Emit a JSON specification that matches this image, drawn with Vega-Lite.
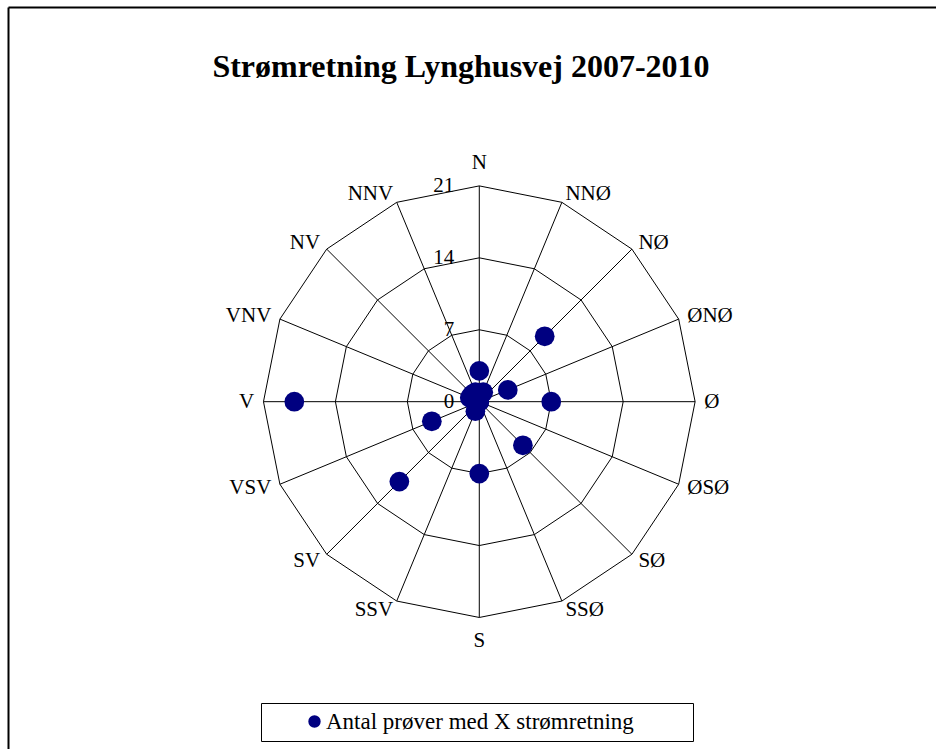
{
  "$schema": "https://vega.github.io/schema/vega-lite/v6.json",
  "width": 928,
  "height": 742,
  "autosize": {"type": "none"},
  "padding": {"left": 8, "top": 7, "right": 0, "bottom": 0},
  "background": "white",
  "title": {"text": "Strømretning Lynghusvej 2007-2010", "font": "Liberation Serif", "fontSize": 32, "fontWeight": "bold", "color": "black", "anchor": "middle", "frame": "group", "offset": 0, "dy": 77, "dx": -11},
  "datasets": {
    "dirs": [
      {"dir": "N", "i": 0, "n": 3},
      {"dir": "NNØ", "i": 1, "n": 1},
      {"dir": "NØ", "i": 2, "n": 9},
      {"dir": "ØNØ", "i": 3, "n": 3},
      {"dir": "Ø", "i": 4, "n": 7},
      {"dir": "ØSØ", "i": 5, "n": 0},
      {"dir": "SØ", "i": 6, "n": 6},
      {"dir": "SSØ", "i": 7, "n": 0},
      {"dir": "S", "i": 8, "n": 7},
      {"dir": "SSV", "i": 9, "n": 1},
      {"dir": "SV", "i": 10, "n": 11},
      {"dir": "VSV", "i": 11, "n": 5},
      {"dir": "V", "i": 12, "n": 18},
      {"dir": "VNV", "i": 13, "n": 1},
      {"dir": "NV", "i": 14, "n": 1},
      {"dir": "NNV", "i": 15, "n": 1}
    ],
    "ticks": [{"t": 0}, {"t": 7}, {"t": 14}, {"t": 21}]
  },
  "layer": [
    {
      "data": {"name": "dirs"},
      "transform": [
        {"calculate": "[7, 14, 21]", "as": "ring"},
        {"flatten": ["ring"]},
        {"calculate": "datum.ring * sin(datum.i * PI / 8)", "as": "gx"},
        {"calculate": "datum.ring * cos(datum.i * PI / 8)", "as": "gy"}
      ],
      "mark": {"type": "line", "color": "black", "strokeWidth": 1, "interpolate": "linear-closed"},
      "encoding": {
        "x": {"field": "gx", "type": "quantitative", "scale": {"domain": [-45.86, 44.44], "nice": false, "zero": false}, "axis": {"orient": "top", "title": null}},
        "y": {"field": "gy", "type": "quantitative", "scale": {"domain": [-33.80, 38.41], "nice": false, "zero": false}, "axis": {"orient": "left", "title": null}},
        "detail": {"field": "ring"},
        "order": {"field": "i", "type": "quantitative"}
      }
    },
    {
      "data": {"name": "dirs"},
      "transform": [
        {"calculate": "0", "as": "zx"},
        {"calculate": "21 * sin(datum.i * PI / 8)", "as": "sx"},
        {"calculate": "21 * cos(datum.i * PI / 8)", "as": "sy"}
      ],
      "mark": {"type": "rule", "color": "black", "strokeWidth": 1},
      "encoding": {
        "x": {"field": "zx", "type": "quantitative", "axis": {"orient": "top", "title": null}},
        "y": {"field": "zx", "type": "quantitative", "axis": {"orient": "left", "title": null}},
        "x2": {"field": "sx"},
        "y2": {"field": "sy"}
      }
    },
    {
      "data": {"name": "ticks"},
      "transform": [{"calculate": "0", "as": "zx"}],
      "mark": {"type": "text", "align": "right", "baseline": "middle", "dx": -25, "font": "Liberation Serif", "fontSize": 21, "color": "black"},
      "encoding": {
        "x": {"field": "zx", "type": "quantitative", "axis": {"orient": "top", "title": null}},
        "y": {"field": "t", "type": "quantitative", "axis": {"orient": "left", "title": null}},
        "text": {"field": "t", "type": "quantitative"}
      }
    },
    {
      "data": {"name": "dirs"},
      "transform": [
        {"filter": "datum.i >= 1 && datum.i <= 7"},
        {"calculate": "21.9 * sin(datum.i * PI / 8)", "as": "lx"},
        {"calculate": "21.9 * cos(datum.i * PI / 8)", "as": "ly"}
      ],
      "mark": {"type": "text", "align": "left", "baseline": "middle", "font": "Liberation Serif", "fontSize": 21, "color": "black"},
      "encoding": {
        "x": {"field": "lx", "type": "quantitative", "axis": {"orient": "top", "title": null}},
        "y": {"field": "ly", "type": "quantitative", "axis": {"orient": "left", "title": null}},
        "text": {"field": "dir"}
      }
    },
    {
      "data": {"name": "dirs"},
      "transform": [
        {"filter": "datum.i >= 9"},
        {"calculate": "21.9 * sin(datum.i * PI / 8)", "as": "lx"},
        {"calculate": "21.9 * cos(datum.i * PI / 8)", "as": "ly"}
      ],
      "mark": {"type": "text", "align": "right", "baseline": "middle", "font": "Liberation Serif", "fontSize": 21, "color": "black"},
      "encoding": {
        "x": {"field": "lx", "type": "quantitative", "axis": {"orient": "top", "title": null}},
        "y": {"field": "ly", "type": "quantitative", "axis": {"orient": "left", "title": null}},
        "text": {"field": "dir"}
      }
    },
    {
      "data": {"name": "dirs"},
      "transform": [
        {"filter": "datum.i == 0 || datum.i == 8"},
        {"calculate": "23.25 * sin(datum.i * PI / 8)", "as": "lx"},
        {"calculate": "23.25 * cos(datum.i * PI / 8)", "as": "ly"}
      ],
      "mark": {"type": "text", "align": "center", "baseline": "middle", "font": "Liberation Serif", "fontSize": 21, "color": "black"},
      "encoding": {
        "x": {"field": "lx", "type": "quantitative", "axis": {"orient": "top", "title": null}},
        "y": {"field": "ly", "type": "quantitative", "axis": {"orient": "left", "title": null}},
        "text": {"field": "dir"}
      }
    },
    {
      "data": {"name": "dirs"},
      "transform": [
        {"calculate": "datum.n * sin(datum.i * PI / 8)", "as": "px"},
        {"calculate": "datum.n * cos(datum.i * PI / 8)", "as": "py"}
      ],
      "mark": {"type": "point", "filled": true, "opacity": 1, "size": 390, "shape": "circle"},
      "encoding": {
        "x": {"field": "px", "type": "quantitative", "axis": {"orient": "top", "title": null}},
        "y": {"field": "py", "type": "quantitative", "axis": {"orient": "left", "title": null}},
        "color": {
          "datum": "Antal prøver med X strømretning",
          "type": "nominal",
          "scale": {"range": ["#000080"]},
          "legend": {
            "orient": "none",
            "legendX": 253,
            "legendY": 696,
            "title": null,
            "direction": "vertical",
            "labelFont": "Liberation Serif",
            "labelFontSize": 23,
            "labelColor": "black",
            "labelLimit": 900,
            "labelOffset": 0,
            "symbolSize": 154,
            "symbolType": "circle",
            "symbolOffset": 35,
            "symbolStrokeWidth": 0,
            "padding": 7,
            "strokeColor": "black",
            "fillColor": "white",
            "labelExpr": "datum.label + '\u00a0\u00a0\u00a0\u00a0\u00a0\u00a0\u00a0\u00a0\u00a0\u200b'"
          }
        }
      }
    }
  ],
  "config": {
    "view": {"stroke": null},
    "font": "Liberation Serif",
    "axis": {"labels": false, "ticks": false, "grid": false, "domain": true, "domainColor": "black", "domainWidth": 2}
  }
}
